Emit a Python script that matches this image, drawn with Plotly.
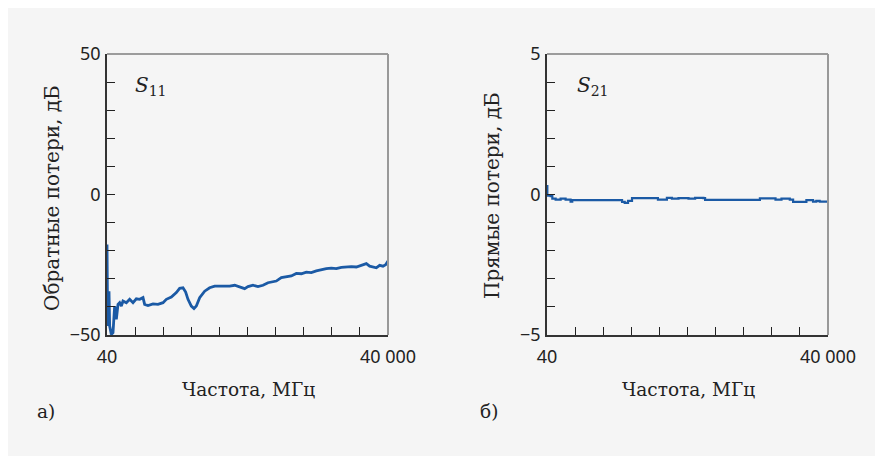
import plotly.graph_objects as go

# ---- data -----------------------------------------------------------------
s11_freq = [40, 60, 135, 324, 419, 656, 893, 1130, 1367, 1604, 1841, 2078, 2315, 2789, 3263,
            3737, 4211, 4685, 5159, 5396, 5870, 6581, 7292, 8003, 8477, 9188, 9899,
            10373, 10847, 11226, 11558, 12032, 12411, 12743, 13217, 13928, 14639,
            15350, 16061, 16772, 17483, 18194, 18905, 19616, 20090, 20801, 21512,
            22223, 22934, 23645, 24119, 24830, 25541, 26252, 26963, 27674, 28385,
            29096, 29807, 30518, 31229, 31940, 32651, 33362, 34073, 34784, 35495,
            36206, 36917, 37391, 37865, 38339, 38813, 39287, 39666, 40000]
s11_db = [-17.8, -46.8, -46.8, -34.4, -46.8, -49.8, -49.2, -39.7, -44.4, -39.1, -38.5, -39.7,
          -37.9, -38.5, -37.3, -38.5, -37.1, -37.3, -36.7, -39.1, -39.5, -38.9,
          -39.1, -38.5, -37.3, -36.5, -34.9, -33.4, -33.2, -34.7, -37.3, -39.7,
          -40.6, -39.7, -36.7, -34.4, -33.2, -32.6, -32.6, -32.8, -32.6, -32.3,
          -32.8, -33.5, -32.8, -32.3, -32.8, -32.3, -31.4, -31.2, -30.8, -29.6,
          -29.3, -29.0, -28.1, -28.2, -27.6, -27.8, -27.2, -26.7, -26.4, -26.2,
          -26.4, -25.9, -25.7, -25.7, -25.8, -25.2, -24.6, -25.5, -25.7, -26.1,
          -25.2, -25.5, -25.0, -23.7]

s21_freq = [40, 87, 560, 796, 1268, 1977, 2685, 3393, 3630, 5991, 10242, 10714, 11092,
            11564, 12131, 15437, 15815, 16854, 17090, 17799, 18743, 20160, 21105,
            22286, 22522, 30079, 30315, 32205, 32535, 33385, 34566, 35038, 36691,
            36927, 37636, 37872, 38344, 38816, 40000]
s21_db = [0.30, -0.04, -0.06, -0.15, -0.18, -0.15, -0.18, -0.25, -0.20, -0.20, -0.20,
          -0.26, -0.30, -0.23, -0.13, -0.13, -0.18, -0.18, -0.12, -0.15, -0.13,
          -0.15, -0.12, -0.13, -0.19, -0.19, -0.14, -0.14, -0.18, -0.15, -0.18,
          -0.26, -0.26, -0.20, -0.20, -0.25, -0.23, -0.25, -0.25]

x_ticks = [40, 4036, 8032, 12028, 16024, 20020, 24016, 28012, 32008, 36004, 40000]
x_ticktext = ["40", "", "", "", "", "", "", "", "", "", "40 000"]
y1_ticks = [-50, -40, -30, -20, -10, 0, 10, 20, 30, 40, 50]
y1_ticktext = ["\u221250", "", "", "", "", "0", "", "", "", "", "50"]
y2_ticks = [-5, -4, -3, -2, -1, 0, 1, 2, 3, 4, 5]
y2_ticktext = ["\u22125", "", "", "", "", "0", "", "", "", "", "5"]

x_title = "Частота, МГц"
y1_title = "Обратные потери, дБ"
y2_title = "Прямые потери, дБ"

# ---- figure ---------------------------------------------------------------
OFF = 8  # page body margin
W, H = 883 - OFF, 456 - OFF
ML, MT = 107 - OFF, 54 - OFF
MR = W - (828 - OFF)
MB = H - (335 - OFF)
PW = W - ML - MR
PH = H - MT - MB

def px(xa):
    return (xa - OFF - ML) / PW

def py(ya):
    return 1 - (ya - OFF - MT) / PH

LINE = "#1b5aa5"
SANS = "Noto Sans"
SERIF = "DejaVu Serif"

fig = go.Figure()
fig.add_trace(go.Scatter(x=s11_freq, y=s11_db, mode="lines", xaxis="x", yaxis="y",
                         line=dict(color=LINE, width=2.8), showlegend=False))
fig.add_trace(go.Scatter(x=s21_freq, y=s21_db, mode="lines", xaxis="x2", yaxis="y2",
                         line=dict(color=LINE, width=2.2, shape="hv"), showlegend=False))

d1 = [0, px(388)]
d2 = [px(547), 1]

axcommon = dict(showgrid=False, zeroline=False, ticks="inside", ticklen=8,
                tickwidth=1, tickcolor="#222", showline=True, linecolor="#333",
                linewidth=1.5, tickfont=dict(family=SANS, size=18, color="#222"),
                fixedrange=True)

fig.update_layout(
    width=W, height=H,
    margin=dict(l=ML, r=MR, t=MT, b=MB),
    paper_bgcolor="white", plot_bgcolor="rgba(0,0,0,0)",
    xaxis=dict(domain=d1, range=[40, 40000], tickmode="array", tickvals=x_ticks,
               ticktext=x_ticktext, anchor="y", ticklabelstandoff=5, **axcommon),
    yaxis=dict(domain=[0, 1], range=[-50, 50], tickmode="array", tickvals=y1_ticks,
               ticktext=y1_ticktext, anchor="x", ticklabelstandoff=1, **axcommon),
    xaxis2=dict(domain=d2, range=[40, 40000], tickmode="array", tickvals=x_ticks,
                ticktext=x_ticktext, anchor="y2", ticklabelstandoff=5, **axcommon),
    yaxis2=dict(domain=[0, 1], range=[-5, 5], tickmode="array", tickvals=y2_ticks,
                ticktext=y2_ticktext, anchor="x2", ticklabelstandoff=1, **axcommon),
)

shapes = [
    dict(type="rect", xref="paper", yref="paper", x0=px(OFF), x1=px(900), y0=py(OFF), y1=py(470),
         fillcolor="#f5f5f5", line=dict(width=0), layer="below"),
]
for dom in (d1, d2):
    shapes.append(dict(type="line", xref="paper", yref="paper", x0=dom[0], x1=dom[1], y0=1, y1=1,
                       line=dict(color="#444", width=1.2)))
    shapes.append(dict(type="line", xref="paper", yref="paper", x0=dom[1], x1=dom[1], y0=0, y1=1,
                       line=dict(color="#999", width=2)))
fig.update_layout(shapes=shapes)

ann = []
def text(x, y, t, size=18.5, family=SERIF, angle=0, xanchor="center"):
    ann.append(dict(xref="paper", yref="paper", x=px(x), y=py(y), text=t, showarrow=False,
                    font=dict(family=family, size=size, color="#222"), textangle=angle,
                    xanchor=xanchor, yanchor="middle"))

text(248, 389, x_title)
text(688, 389, x_title)
text(52, 198, y1_title, size=20, angle=-90)
text(492, 196, y2_title, size=20, angle=-90)
text(35, 411, "а)", xanchor="left")
text(478, 411, "б)", xanchor="left")
text(133, 86, "<i>S</i><sub>11</sub>", size=20, xanchor="left")
text(575, 86, "<i>S</i><sub>21</sub>", size=20, xanchor="left")
fig.update_layout(annotations=ann)

fig.write_html("out.html")
